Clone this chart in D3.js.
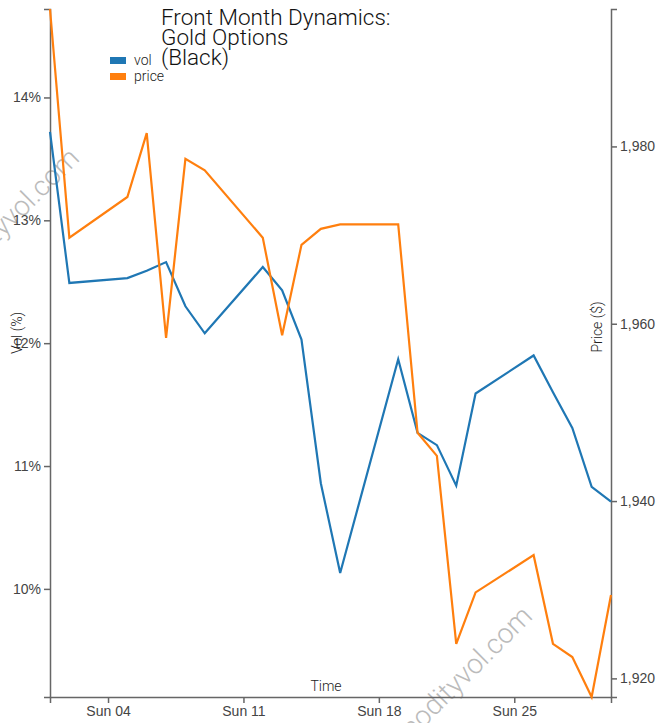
<!DOCTYPE html>
<html>
<head>
<meta charset="utf-8">
<script src="https://cdn.jsdelivr.net/npm/d3@7"></script>
<style>
  html, body { margin: 0; padding: 0; background: #fff; }
  svg { display: block; font-family: Roboto, "Noto Sans", sans-serif; }
  .axis text { font-size: 14px; fill: #444; font-weight: 300; }
  .axis path, .axis line { stroke: #666; stroke-width: 1.5; }
</style>
</head>
<body>
<svg id="chart" width="666" height="723"></svg>
<script>
// ---- data (June 2023 trading days) ----
const days = [1, 2, 5, 6, 7, 8, 9, 12, 13, 14, 15, 16, 19, 20, 21, 22, 23, 26, 27, 28, 29, 30];
const vol = [13.72, 12.49, 12.53, 12.59, 12.66, 12.30, 12.08, 12.62, 12.43, 12.03, 10.86, 10.13,
             11.87, 11.27, 11.17, 10.84, 11.59, 11.90, 11.60, 11.31, 10.83, 10.71];
const price = [1995.5, 1969.7, 1974.3, 1981.5, 1958.4, 1978.6, 1977.3, 1969.7, 1958.7, 1968.9, 1970.7, 1971.2,
               1971.2, 1947.7, 1945.1, 1923.9, 1929.7, 1933.9, 1923.9, 1922.4, 1917.9, 1929.4];
const volDomain = [9.12, 14.72];
const seriesNames = ["vol", "price"];
const seriesColors = ["#1f77b4", "#ff7f0e"];
const titleLines = ["Front Month Dynamics:", "Gold Options", "(Black)"];

const rows = days.map((d, i) => ({ date: new Date(2023, 5, d), vol: vol[i], price: price[i] }));

const W = 666, H = 723;
const m = { top: 9, right: 55, bottom: 26, left: 50 };
const svg = d3.select("#chart");

const x = d3.scaleTime()
  .domain([new Date(2023, 5, 1), new Date(2023, 5, 30)])
  .range([m.left, W - m.right]);
const yL = d3.scaleLinear().domain(volDomain).range([H - m.bottom, m.top]);
const yR = d3.scaleLinear().domain(d3.extent(price)).range([H - m.bottom, m.top]);

// watermarks
const wm = [[-8, 238], [445, 696]];
wm.forEach(([cx, cy]) => {
  svg.append("text")
    .attr("transform", `translate(${cx},${cy}) rotate(-45)`)
    .attr("text-anchor", "middle")
    .attr("dominant-baseline", "middle")
    .style("font-size", "28px")
    .style("font-weight", 300)
    .style("fill", "#bbb")
    .text("commodityvol.com");
});

// axes
svg.append("g").attr("class", "axis")
  .attr("transform", `translate(0,${H - m.bottom})`)
  .call(d3.axisBottom(x).ticks(d3.timeWeek.every(1)).tickFormat(d3.timeFormat("%a %d")));
svg.append("g").attr("class", "axis")
  .attr("transform", `translate(${m.left},0)`)
  .call(d3.axisLeft(yL).ticks(5).tickFormat(d => d + "%"));
svg.append("g").attr("class", "axis")
  .attr("transform", `translate(${W - m.right},0)`)
  .call(d3.axisRight(yR).ticks(5).tickFormat(d3.format(",")));

// lines
const lineV = d3.line().x(d => x(d.date)).y(d => yL(d.vol));
const lineP = d3.line().x(d => x(d.date)).y(d => yR(d.price));
svg.append("path").datum(rows).attr("d", lineV)
  .attr("fill", "none").attr("stroke", seriesColors[0]).attr("stroke-width", 2.2);
svg.append("path").datum(rows).attr("d", lineP)
  .attr("fill", "none").attr("stroke", seriesColors[1]).attr("stroke-width", 2.2);

// axis labels
svg.append("text")
  .attr("transform", `translate(22,333) rotate(-90)`)
  .attr("text-anchor", "middle")
  .style("font-size", "14px").style("font-weight", 300).style("fill", "#222")
  .text("Vol (%)");
svg.append("text")
  .attr("transform", `translate(602,327) rotate(-90)`)
  .attr("text-anchor", "middle")
  .style("font-size", "14px").style("font-weight", 300).style("fill", "#222")
  .text("Price ($)");
svg.append("text")
  .attr("x", 326).attr("y", 691)
  .attr("text-anchor", "middle")
  .style("font-size", "14px").style("font-weight", 300).style("fill", "#222")
  .text("Time");

// title
const title = svg.append("text")
  .style("font-size", "22.5px").style("font-weight", 300).style("fill", "#111");
titleLines.forEach((t, i) => {
  title.append("tspan").attr("x", 161).attr("y", 25 + i * 20).text(t);
});

// legend
const leg = svg.append("g");
seriesNames.forEach((n, i) => {
  leg.append("rect").attr("x", 110).attr("y", 57 + i * 16).attr("width", 16).attr("height", 7)
    .attr("fill", seriesColors[i]);
  leg.append("text").attr("x", 134).attr("y", 65 + i * 16)
    .style("font-size", "14px").style("font-weight", 300).style("fill", "#222")
    .text(n);
});
</script>
</body>
</html>
